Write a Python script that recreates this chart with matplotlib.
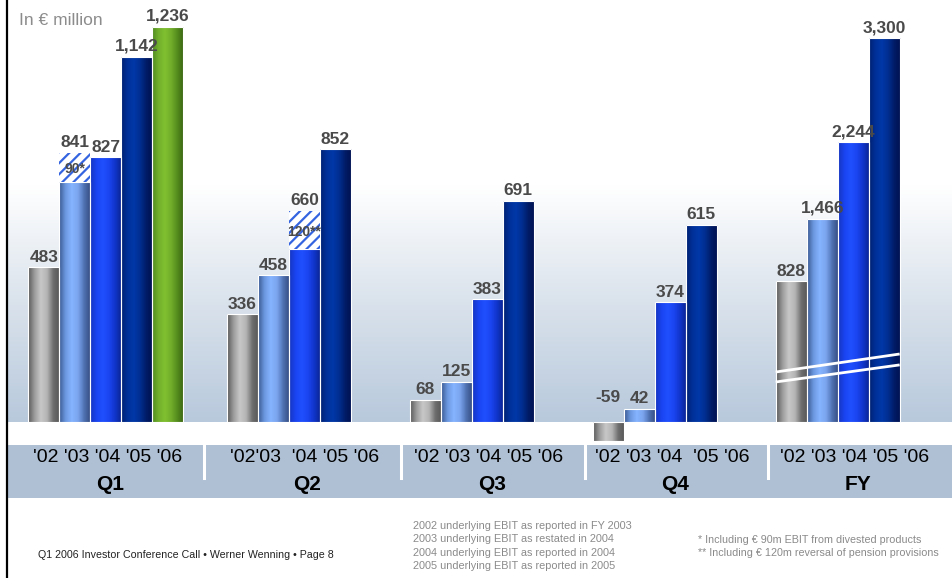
import matplotlib.pyplot as plt
import numpy as np
from matplotlib.colors import LinearSegmentedColormap
from matplotlib.transforms import blended_transform_factory
from matplotlib.lines import Line2D

plt.rcParams['font.family'] = ['Liberation Sans', 'DejaVu Sans']
plt.rcParams['hatch.linewidth'] = 1.6

# underlying EBIT, in EUR million
groups = ['Q1', 'Q2', 'Q3', 'Q4', 'FY']
year_labels = ["'02 '03 '04 '05 '06", "'02'03  '04 '05 '06", "'02 '03 '04 '05 '06",
               "'02 '03 '04  '05 '06", "'02 '03 '04 '05 '06"]
years = ["'02", "'03", "'04", "'05", "'06"]
q1 = [483, 751, 827, 1142, 1236]
q2 = [336, 458, 540, 852]
q3 = [68, 125, 383, 691]
q4 = [-59, 42, 374, 615]
fy = [828, 1466, 2244, 3300]
# one-off items shown hatched on top of the bars
q1_extra = [0, 90, 0, 0, 0]
q2_extra = [0, 0, 120, 0]
extra_text = {90: '90*', 120: '120**'}

quarters = [q1, q2, q3, q4]
extras = [q1_extra, q2_extra, [0] * 4, [0] * 4]

notes_mid = ['2002 underlying EBIT as reported in FY 2003',
             '2003 underlying EBIT as restated in 2004',
             '2004 underlying EBIT as reported in 2004',
             '2005 underlying EBIT as reported in 2005']
notes_right = ['* Including \u20ac 90m EBIT from divested products',
               '** Including \u20ac 120m reversal of pension provisions']
footer = 'Q1 2006 Investor Conference Call \u2022 Werner Wenning \u2022 Page 8'

# cylinder shading per year
shades = {
    "'02": ['#5a5a5a', '#9c9c9c', '#c8c8c8', '#b4b4b4', '#6e6e6e', '#565656'],
    "'03": ['#3a5a92', '#6c98e0', '#86b4ff', '#7aa4ee', '#4e70b0', '#344c80'],
    "'04": ['#1434c0', '#1a44f0', '#2050ff', '#1a44f0', '#1034c8', '#0a2490'],
    "'05": ['#002070', '#00309a', '#0038a8', '#002e90', '#001c66', '#001050'],
    "'06": ['#4e8a20', '#72b02c', '#80c030', '#72ae2a', '#548c1e', '#3a6412'],
}
cmaps = {k: LinearSegmentedColormap.from_list(k, v) for k, v in shades.items()}

W, H = 953, 578
GAP = 5.9          # group spacing in bar widths
XL, XR = -3.16, 27.32
Y_LO, Y_HI = -72, 1319
FY_BASE = -600
FY_LO, FY_HI = -833, 3685

fig = plt.figure(figsize=(W / 100, H / 100), dpi=100)
ax = fig.add_axes([8 / W, 133 / H, 945 / W, 445 / H])
ax_fy = fig.add_axes([8 / W, 133 / H, 945 / W, 445 / H])
ax_fy.patch.set_visible(False)
band = fig.add_axes([8 / W, 80 / H, 945 / W, 53 / H])

# background gradient above the zero line
bg = LinearSegmentedColormap.from_list('bg', [(0, '#b8c9dc'), (0.3, '#dce4ed'), (0.56, '#ffffff'), (1, '#ffffff')])
ax.imshow(np.linspace(0, 1, 256).reshape(-1, 1), cmap=bg, origin='lower',
          extent=(XL, XR, 0, Y_HI), aspect='auto', zorder=0)


def shade(a, patch, cmap):
    x0, y0 = patch.get_x(), patch.get_y()
    w, h = patch.get_width(), patch.get_height()
    im = a.imshow(np.linspace(0, 1, 64).reshape(1, -1), cmap=cmap, aspect='auto',
                  extent=(x0, x0 + w, min(y0, y0 + h), max(y0, y0 + h)), zorder=2,
                  interpolation='bilinear')
    im.set_clip_path(patch)


def label(a, x, y, s, off):
    a.annotate(s, (x, y), xytext=(0, off), textcoords='offset points', ha='center',
               va='bottom', fontsize=12.5, fontweight='bold', color='#4a4a4a', zorder=5)


for g, vals in enumerate(quarters):
    n = len(vals)
    xs = g * GAP + np.arange(n) - (n - 1) / 2
    bars = ax.bar(xs, vals, width=1, facecolor='none', edgecolor='white', linewidth=0.8, zorder=3)
    for j, b in enumerate(bars):
        shade(ax, b, cmaps[years[j]])
        extra = extras[g][j]
        top = vals[j] + extra
        if extra:
            ax.bar(xs[j], extra, width=1, bottom=vals[j], facecolor='white', edgecolor='#3564e0',
                   hatch='///', linewidth=0, zorder=3)
            ax.text(xs[j], vals[j] + extra * 0.45, extra_text[extra], ha='center', va='center',
                    fontsize=10, fontweight='bold', color='#4a4a4a', zorder=5)
        if top >= 0:
            label(ax, xs[j], top, f'{top:,}', 2)
        else:
            label(ax, xs[j], 0, f'{top:,}', 12)

# full year on a compressed, broken scale
xs = 4 * GAP + np.arange(len(fy)) - (len(fy) - 1) / 2
heights = [v - FY_BASE for v in fy]
bars = ax_fy.bar(xs, heights, width=1, bottom=FY_BASE, facecolor='none', edgecolor='white',
                 linewidth=0.8, zorder=3)
for j, b in enumerate(bars):
    shade(ax_fy, b, cmaps[years[j]])
    label(ax_fy, xs[j], fy[j], f'{fy[j]:,}', 2)
tr = blended_transform_factory(ax_fy.transData, ax_fy.transAxes)
for y0, y1 in [(0.164, 0.2045), (0.1416, 0.180)]:
    ax_fy.plot([xs[0] - 0.5, xs[-1] + 0.5], [y0, y1], color='white', lw=2, transform=tr,
               zorder=4, solid_capstyle='butt')

for a, lo, hi in [(ax, Y_LO, Y_HI), (ax_fy, FY_LO, FY_HI)]:
    a.set_xlim(XL, XR)
    a.set_ylim(lo, hi)
    a.axis('off')

ax.text(0.012, 0.955, 'In \u20ac million', transform=ax.transAxes, fontsize=12.5,
        color='#8c8c8c', va='center')

# category band
band.set_facecolor('#afc0d4')
band.set_xlim(XL, XR)
band.set_ylim(0, 1)
for s in band.spines.values():
    s.set_visible(False)
band.set_xticks([])
band.set_yticks([])
shifts = [0.05, 0.5, 0.55, 0.55, 0.55]
for g, name in enumerate(groups):
    c = g * GAP + shifts[g]
    band.text(c, 0.76, year_labels[g], ha='center', va='center', fontsize=14, color='black')
    band.text(c + 0.1, 0.25, name, ha='center', va='center', fontsize=15,
              fontweight='bold', color='black')
    if g < len(groups) - 1:
        band.plot([c + 3.1] * 2, [0.37, 1], color='white', lw=2.2)

fig.add_artist(Line2D([7 / W, 7 / W], [0, 1], color='black', lw=1.6))

fig.text(38 / W, 1 - 555 / H, footer, fontsize=7.7, color='#222222', va='center')
for i, s in enumerate(notes_mid):
    fig.text(413 / W, 1 - (526 + 13.3 * i) / H, s, fontsize=7.8, color='#8a8a8a', va='center')
for i, s in enumerate(notes_right):
    fig.text(698 / W, 1 - (540 + 13.3 * i) / H, s, fontsize=7.75, color='#8a8a8a', va='center')

fig.savefig('out.png', dpi=100)
